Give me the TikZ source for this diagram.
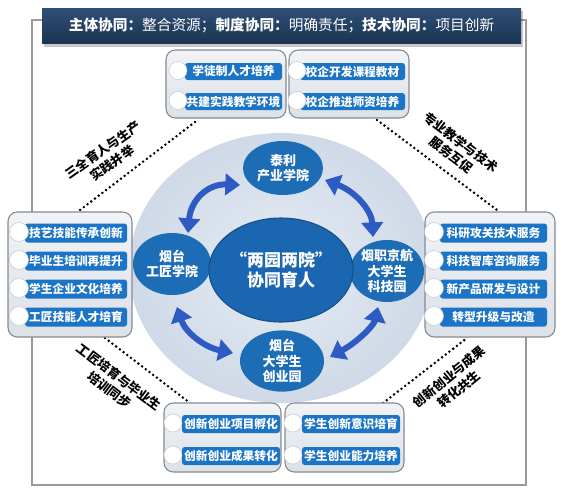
\documentclass[tikz,border=0pt]{standalone}
\usepackage{fontspec}
\setmainfont{Noto Sans CJK SC}
\usetikzlibrary{arrows.meta,shapes.geometric}
\definecolor{navyT}{HTML}{2F4F76}
\definecolor{navyB}{HTML}{1A3453}
\definecolor{nodeblue}{HTML}{1D6CB6}
\definecolor{centerfill}{HTML}{1A66B0}
\definecolor{centeredge}{HTML}{174E88}
\definecolor{barblue}{HTML}{1B74C5}
\definecolor{arrowblue}{HTML}{2D5AC3}
\definecolor{boxedge}{HTML}{858B93}
\definecolor{boxtop}{HTML}{F1F3F6}
\definecolor{boxbot}{HTML}{DCE1E8}
\definecolor{frameg}{HTML}{9A9A9A}
\definecolor{circg}{HTML}{C4C8CE}
\definecolor{bgin}{HTML}{E6ECF4}
\definecolor{bgout}{HTML}{CFD9E7}
\begin{document}
\begin{tikzpicture}[x=0.75pt,y=-0.75pt,
  banner/.style={top color=navyT, bottom color=navyB, text=white, inner sep=0pt,
    minimum width=359.25pt, minimum height=26.25pt, font=\fontsize{11}{13}\selectfont},
  cbox/.style={draw=boxedge, line width=0.8pt, rounded corners=7pt, top color=boxtop, bottom color=boxbot, inner sep=0pt},
  pill/.style={fill=barblue, rounded corners=2pt, text=white, font=\fontsize{8.8}{10}\selectfont\bfseries,
    inner sep=0pt, minimum height=12.75pt},
  sidepill/.style={pill, minimum height=14.25pt},
  hole/.style={circle, fill=white, draw=circg, line width=0.4pt, minimum size=13.5pt, inner sep=0pt},
  sidehole/.style={hole, minimum size=14.25pt},
  satnode/.style={ellipse, fill=nodeblue, text=white, inner sep=0pt, align=center,
    font=\fontsize{9.75}{11.5}\selectfont\bfseries},
  centernode/.style={ellipse, fill=centerfill, draw=centeredge, line width=0.8pt, text=white, inner sep=0pt,
    align=center, minimum width=84pt, minimum height=78pt, font=\fontsize{12.75}{15}\selectfont\bfseries},
  dotline/.style={black, line width=2.1pt, dash pattern=on 0pt off 3.5pt, line cap=round},
  diaglabel/.style={align=center, inner sep=0pt, font=\fontsize{9.5}{12}\selectfont\bfseries},
  bigarrow/.style={draw=arrowblue, line width=4.5pt, {Triangle[width=16pt,length=11pt]}-{Triangle[width=16pt,length=11pt]}}
]
\useasboundingbox (0,0) rectangle (573,500);
\fill[white] (0,0) rectangle (573,500);

% frame
\draw[frameg, line width=0.9pt] (32,20) rectangle (526,485);

% banner
\fill[black, opacity=0.22] (44,11) rectangle (523,46.5);
\node[banner] (ban) at (281.5,25.5) {\textbf{主体协同：}整合资源；\textbf{制度协同：}明确责任；\textbf{技术协同：}项目创新};

% background ellipse
\node[ellipse, minimum width=228pt, minimum height=202.5pt, inner sep=0pt, inner color=bgin, outer color=bgout] (bg) at (281,268) {};

% dotted connectors
\coordinate (d1a) at (195,122); \coordinate (d1b) at (80,210);
\coordinate (d2a) at (377,120); \coordinate (d2b) at (497,210);
\coordinate (d3a) at (105,338); \coordinate (d3b) at (190,403);
\coordinate (d4a) at (383,403); \coordinate (d4b) at (467,338);
\draw[dotline] (d1a) -- (d1b);
\draw[dotline] (d2a) -- (d2b);
\draw[dotline] (d3a) -- (d3b);
\draw[dotline] (d4a) -- (d4b);

% diagonal labels
\node[diaglabel, rotate=35] (lab1) at (107.5,156.5) {三全育人与生产\\实践并举};
\node[diaglabel, rotate=-37] (lab2) at (456,148.5) {专业教学与技术\\服务互促};
\node[diaglabel, rotate=-37] (lab3) at (114.5,383.5) {工匠培育与毕业生\\培训同步};
\node[diaglabel, rotate=39] (lab4) at (454,383) {创新创业与成果\\转化共生};

% container boxes
\node[cbox, minimum width=90pt, minimum height=51pt] (tl) at (226,84) {};
\node[cbox, minimum width=90pt, minimum height=51pt] (tr) at (349,84) {};
\node[cbox, minimum width=87.75pt, minimum height=51.75pt] (bl) at (222.5,437.5) {};
\node[cbox, minimum width=89.25pt, minimum height=51.75pt] (br) at (344.5,437.5) {};
\node[cbox, minimum width=93pt, minimum height=93.75pt] (lb) at (70,274.5) {};
\node[cbox, minimum width=97.5pt, minimum height=93.75pt] (rb) at (490,274.5) {};

% bars: top
\node[pill, minimum width=72.75pt] (tl1) at (233.5,71.5) {学徒制人才培养};
\node[pill, minimum width=72.75pt] (tl2) at (233.5,101.5) {共建实践教学环境};
\node[pill, minimum width=78.75pt] (tr1) at (352.5,71.5) {校企开发课程教材};
\node[pill, minimum width=78.75pt] (tr2) at (352.5,101.5) {校企推进师资培养};
% bars: bottom
\node[pill, minimum width=73.5pt, minimum height=13.5pt] (bl1) at (231,424) {创新创业项目孵化};
\node[pill, minimum width=73.5pt, minimum height=13.5pt] (bl2) at (231,456) {创新创业成果转化};
\node[pill, minimum width=73.5pt, minimum height=13.5pt] (br1) at (351,424) {学生创新意识培育};
\node[pill, minimum width=73.5pt, minimum height=13.5pt] (br2) at (351,456) {学生创业能力培养};
% bars: left
\node[sidepill, minimum width=76.5pt] (lb1) at (76,233) {技艺技能传承创新};
\node[sidepill, minimum width=76.5pt] (lb2) at (76,261) {毕业生培训再提升};
\node[sidepill, minimum width=76.5pt] (lb3) at (76,289) {学生企业文化培养};
\node[sidepill, minimum width=76.5pt] (lb4) at (76,317) {工匠技能人才培育};
% bars: right
\node[sidepill, minimum width=80.25pt] (rb1) at (493.5,233) {科研攻关技术服务};
\node[sidepill, minimum width=80.25pt] (rb2) at (493.5,261) {科技智库咨询服务};
\node[sidepill, minimum width=80.25pt] (rb3) at (493.5,289) {新产品研发与设计};
\node[sidepill, minimum width=80.25pt] (rb4) at (493.5,317) {转型升级与改造};

% white circles
\node[hole] (tl1c) at (178,70.5) {};
\node[hole] (tl2c) at (178,100.5) {};
\node[hole] (tr1c) at (297,70.5) {};
\node[hole] (tr2c) at (297,100.5) {};
\node[hole] (bl1c) at (173,423) {};
\node[hole] (bl2c) at (173,455) {};
\node[hole] (br1c) at (293,423) {};
\node[hole] (br2c) at (293,455) {};
\node[sidehole] (lb1c) at (19,232) {};
\node[sidehole] (lb2c) at (19,260) {};
\node[sidehole] (lb3c) at (19,288) {};
\node[sidehole] (lb4c) at (19,316) {};
\node[sidehole] (rb1c) at (434,232) {};
\node[sidehole] (rb2c) at (434,260) {};
\node[sidehole] (rb3c) at (434,288) {};
\node[sidehole] (rb4c) at (434,316) {};

% satellite nodes
\node[satnode, minimum width=60pt, minimum height=40.5pt] (tn) at (283,168) {泰利\\产业学院};
\node[satnode, minimum width=58.5pt, minimum height=46.5pt] (ln) at (172,264) {烟台\\工匠学院};
\node[satnode, minimum width=55.5pt, minimum height=46.5pt] (rn) at (387,271) {烟职京航\\大学生\\科技园};
\node[satnode, minimum width=63pt, minimum height=42.75pt] (bn) at (282,361) {烟台\\大学生\\创业园};
\node[centernode] (cn) at (281,270) {“两园两院”\\协同育人};

% curved double arrows between satellites
\coordinate (a1s) at (240,185); \coordinate (a1e) at (188,233);
\coordinate (a2s) at (325,180); \coordinate (a2e) at (373,237);
\coordinate (a3s) at (378,307); \coordinate (a3e) at (330,357);
\coordinate (a4s) at (177,307); \coordinate (a4e) at (233,353);
\draw[bigarrow] (a1s) .. controls (208,183.7) and (190.7,199.7) .. (a1e);
\draw[bigarrow] (a2s) .. controls (355.7,191.7) and (371.7,210.7) .. (a2e);
\draw[bigarrow] (a3s) .. controls (374,325) and (358,341.7) .. (a3e);
\draw[bigarrow] (a4s) .. controls (185,331.7) and (203.7,347) .. (a4e);
\end{tikzpicture}
\end{document}
